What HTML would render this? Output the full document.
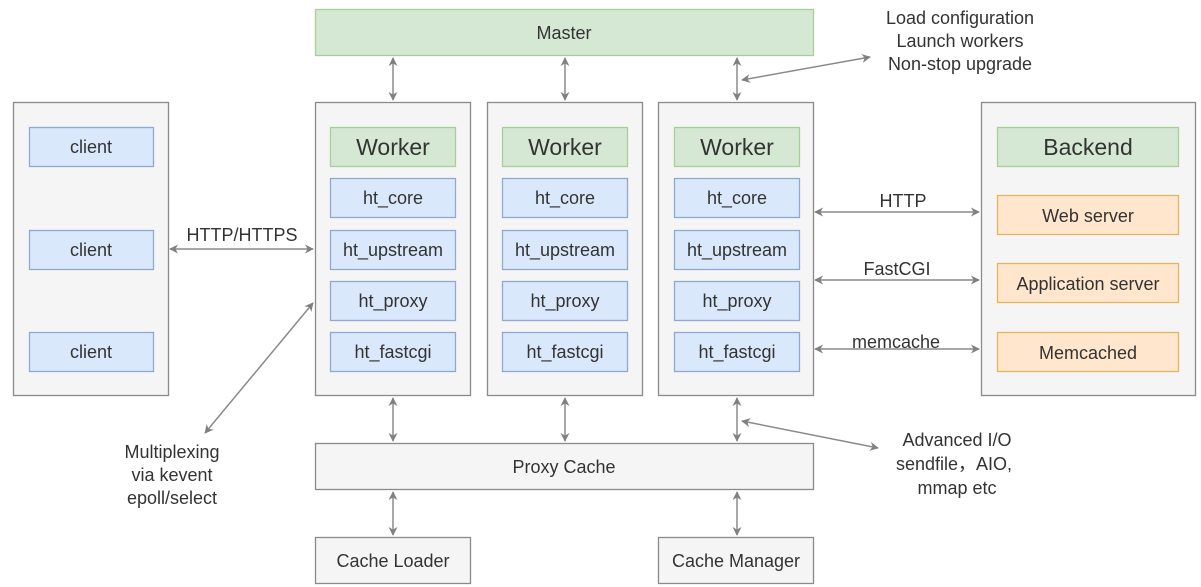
<!DOCTYPE html>
<html><head><meta charset="utf-8"><style>
html,body{margin:0;padding:0;background:#fff;}
svg{display:block;}
text{font-family:"Liberation Sans",Arial,sans-serif;fill:#333;text-anchor:middle;}
</style></head><body>
<svg width="1201" height="587" viewBox="0 0 1201 587" xmlns="http://www.w3.org/2000/svg">
<defs>
<marker id="a" viewBox="0 0 10 10" refX="9" refY="5" markerWidth="9" markerHeight="9" markerUnits="userSpaceOnUse" orient="auto-start-reverse">
<path d="M0,0 L10,5 L0,10 L3,5 z" fill="#808080"/></marker>
</defs>
<g stroke="#8a8a8a" stroke-width="1.3" fill="#f5f5f5">
<rect x="13.5" y="102.5" width="155" height="293"/>
<rect x="315.5" y="102.5" width="155" height="293"/>
<rect x="487.5" y="102.5" width="155" height="293"/>
<rect x="658.5" y="102.5" width="155" height="293"/>
<rect x="981.5" y="102.5" width="214" height="293"/>
<rect x="315.5" y="443.5" width="498" height="46"/>
<rect x="315.5" y="537.5" width="155" height="46"/>
<rect x="658.5" y="537.5" width="155" height="46"/>
</g>
<g stroke="#a8cf95" stroke-width="1.3" fill="#d5e8d4">
<rect x="315.5" y="9.5" width="498" height="46"/>
<rect x="330.5" y="127.5" width="125" height="39"/>
<rect x="502.5" y="127.5" width="125" height="39"/>
<rect x="674.5" y="127.5" width="125" height="39"/>
<rect x="997.5" y="127.5" width="181" height="39"/>
</g>
<g stroke="#8fa9cf" stroke-width="1.3" fill="#dae8fc">
<rect x="29.5" y="127.5" width="124" height="39"/>
<rect x="29.5" y="230.5" width="124" height="39"/>
<rect x="29.5" y="332.5" width="124" height="39"/>
<rect x="330.5" y="178.5" width="125" height="39"/><rect x="330.5" y="230.5" width="125" height="39"/><rect x="330.5" y="281.5" width="125" height="39"/><rect x="330.5" y="332.5" width="125" height="39"/>
<rect x="502.5" y="178.5" width="125" height="39"/><rect x="502.5" y="230.5" width="125" height="39"/><rect x="502.5" y="281.5" width="125" height="39"/><rect x="502.5" y="332.5" width="125" height="39"/>
<rect x="674.5" y="178.5" width="125" height="39"/><rect x="674.5" y="230.5" width="125" height="39"/><rect x="674.5" y="281.5" width="125" height="39"/><rect x="674.5" y="332.5" width="125" height="39"/>
</g>
<g stroke="#e3b563" stroke-width="1.3" fill="#ffe6cc">
<rect x="997.5" y="195.5" width="181" height="39"/>
<rect x="997.5" y="263.5" width="181" height="39"/>
<rect x="997.5" y="332.5" width="181" height="39"/>
</g>
<g stroke="#8a8a8a" stroke-width="1.5" fill="none" marker-start="url(#a)" marker-end="url(#a)">
<line x1="393" y1="58" x2="393" y2="100"/><line x1="565" y1="58" x2="565" y2="100"/><line x1="737" y1="58" x2="737" y2="100"/>
<line x1="393" y1="398" x2="393" y2="441"/><line x1="565" y1="398" x2="565" y2="441"/><line x1="737" y1="398" x2="737" y2="441"/>
<line x1="393" y1="492" x2="393" y2="535"/><line x1="737" y1="492" x2="737" y2="535"/>
<line x1="170" y1="249" x2="313" y2="249"/>
<line x1="815" y1="212" x2="979" y2="212"/>
<line x1="815" y1="280" x2="979" y2="280"/>
<line x1="815" y1="349" x2="979" y2="349"/>
<line x1="313" y1="303" x2="205" y2="433"/>
<line x1="742" y1="80" x2="870" y2="57"/>
<line x1="742" y1="421" x2="878" y2="448"/>
</g>
<g font-size="18">
<text x="564" y="39">Master</text>
<text x="91" y="153">client</text><text x="91" y="256">client</text><text x="91" y="358">client</text>
<text x="393" y="204">ht_core</text><text x="393" y="256">ht_upstream</text><text x="393" y="307">ht_proxy</text><text x="393" y="358">ht_fastcgi</text>
<text x="565" y="204">ht_core</text><text x="565" y="256">ht_upstream</text><text x="565" y="307">ht_proxy</text><text x="565" y="358">ht_fastcgi</text>
<text x="737" y="204">ht_core</text><text x="737" y="256">ht_upstream</text><text x="737" y="307">ht_proxy</text><text x="737" y="358">ht_fastcgi</text>
<text x="1088" y="222">Web server</text><text x="1088" y="290">Application server</text><text x="1088" y="359">Memcached</text>
<text x="564" y="473">Proxy Cache</text>
<text x="393" y="567">Cache Loader</text><text x="736" y="567">Cache Manager</text>
<text x="242" y="241">HTTP/HTTPS</text>
<text x="903" y="207">HTTP</text><text x="897" y="275">FastCGI</text><text x="896" y="348">memcache</text>
<text x="960" y="24">Load configuration</text><text x="960" y="47">Launch workers</text><text x="960" y="70">Non-stop upgrade</text>
<text x="172" y="458">Multiplexing</text><text x="172" y="481">via kevent</text><text x="172" y="504">epoll/select</text>
<text x="957" y="446">Advanced I/O</text><text x="954" y="470">sendfile，AIO,</text><text x="957" y="494">mmap etc</text>
</g>
<g font-size="23">
<text x="393" y="155">Worker</text><text x="565" y="155">Worker</text><text x="737" y="155">Worker</text><text x="1088" y="155">Backend</text>
</g>
</svg>
</body></html>
